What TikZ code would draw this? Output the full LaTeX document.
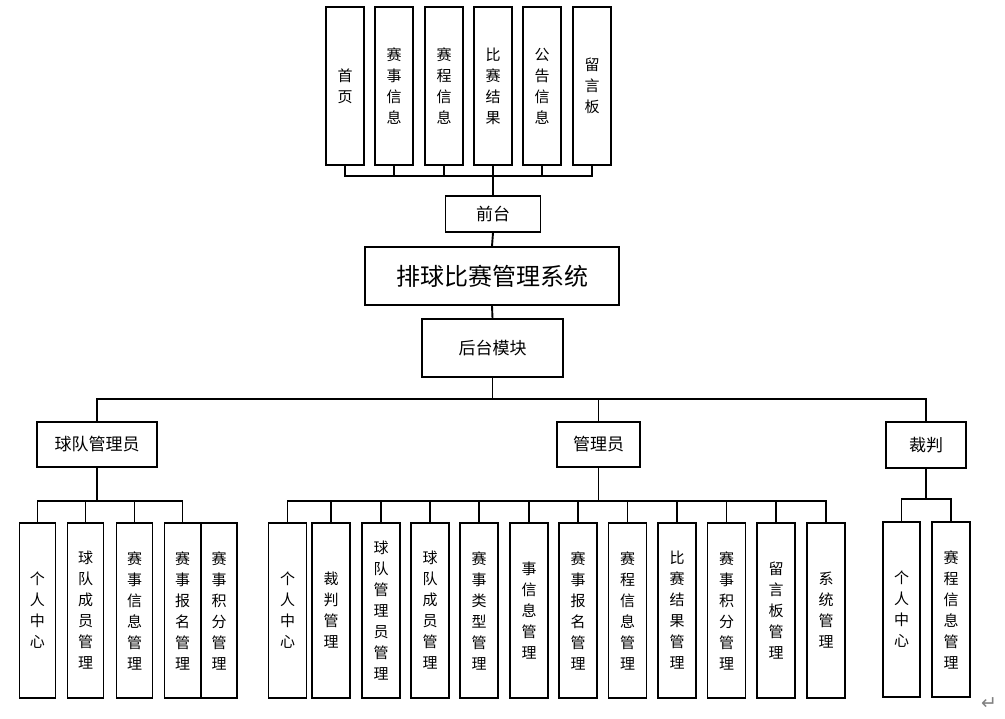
\documentclass[tikz,border=0pt]{standalone}
\usepackage{fontspec}
\setmainfont{Noto Sans CJK SC}
\newfontfamily\symfont{DejaVu Sans}
\usetikzlibrary{positioning}
\tikzset{
  box/.style={draw, line width=1.4pt, inner sep=0pt, font=\fontsize{17}{20}\selectfont},
  vbox/.style={draw, line width=1.4pt, inner sep=0pt, minimum width=38pt, minimum height=175pt, align=center, font=\fontsize{15}{21}\selectfont},
  link/.style={line width=1.9pt},
}
\begin{document}
\begin{tikzpicture}[x=1pt,y=-1pt]
\useasboundingbox (0,0) rectangle (1005,719);
% front end
\node[vbox, minimum height=158pt] (sy) at (345,86) {首\\页};
\node[vbox, minimum height=158pt] (ssxx) at (394,86) {赛\\事\\信\\息};
\node[vbox, minimum height=158pt] (scxx) at (444,86) {赛\\程\\信\\息};
\node[vbox, minimum height=158pt] (bsjg) at (493,86) {比\\赛\\结\\果};
\node[vbox, minimum height=158pt] (ggxx) at (542,86) {公\\告\\信\\息};
\node[vbox, minimum height=158pt] (lyb) at (592,86) {留\\言\\板};
\coordinate (topbus) at (493,176);
\node[box, minimum width=95pt, minimum height=36pt] (qt) at (493,214) {前台};
\node[box, minimum width=254pt, minimum height=58pt, font=\fontsize{24}{28}\selectfont] (xt) at (492,276) {排球比赛管理系统};
\node[box, minimum width=141pt, minimum height=58pt] (ht) at (492.5,348) {后台模块};
% roles
\coordinate (midbus) at (492.5,399);
\node[box, minimum width=120pt, minimum height=45pt] (qdgly) at (97,444.5) {球队管理员};
\node[box, minimum width=83pt, minimum height=45pt] (gly) at (598.5,444.5) {管理员};
\node[box, minimum width=80pt, minimum height=46pt] (cp) at (926,445) {裁判};
% team manager
\node[vbox, minimum width=36pt] (a1) at (37.5,610.5) {个\\人\\中\\心};
\node[vbox, minimum width=36pt] (a2) at (85.5,610.5) {球\\队\\成\\员\\管\\理};
\node[vbox, minimum width=36pt] (a3) at (134.5,610.5) {赛\\事\\信\\息\\管\\理};
\node[vbox, minimum width=36pt] (a4) at (182.5,610.5) {赛\\事\\报\\名\\管\\理};
\node[vbox, minimum width=36pt] (a5) at (219,610.5) {赛\\事\\积\\分\\管\\理};
\coordinate (abus) at (97,501);
% admin
\node[vbox] (b1) at (287.5,610.5) {个\\人\\中\\心};
\node[vbox] (b2) at (331,610.5) {裁\\判\\管\\理};
\node[vbox] (b3) at (381,610.5) {球\\队\\管\\理\\员\\管\\理};
\node[vbox] (b4) at (430,610.5) {球\\队\\成\\员\\管\\理};
\node[vbox] (b5) at (479,610.5) {赛\\事\\类\\型\\管\\理};
\node[vbox] (b6) at (529,610.5) {事\\信\\息\\管\\理};
\node[vbox] (b7) at (578,610.5) {赛\\事\\报\\名\\管\\理};
\node[vbox] (b8) at (627.5,610.5) {赛\\程\\信\\息\\管\\理};
\node[vbox] (b9) at (677,610.5) {比\\赛\\结\\果\\管\\理};
\node[vbox] (b10) at (726.5,610.5) {赛\\事\\积\\分\\管\\理};
\node[vbox] (b11) at (776,610.5) {留\\言\\板\\管\\理};
\node[vbox] (b12) at (826,610.5) {系\\统\\管\\理};
\coordinate (bbus) at (598.5,501);
% referee
\node[vbox, minimum width=37pt] (c1) at (901.5,609.5) {个\\人\\中\\心};
\node[vbox] (c2) at (951,609.5) {赛\\程\\信\\息\\管\\理};
\coordinate (cbus) at (926,499);
\node[text=gray, font=\symfont\fontsize{19}{19}\selectfont] (pm) at (989,704) {↵};
% connectors
\draw[link] (sy.south) |- (topbus) -| (lyb.south);
\draw[link] (ssxx.south) -- (ssxx.south |- topbus);
\draw[link] (scxx.south) -- (scxx.south |- topbus);
\draw[link] (bsjg.south) -- (bsjg.south |- topbus);
\draw[link] (ggxx.south) -- (ggxx.south |- topbus);
\draw[link] (topbus) -- (qt.north);
\draw[link] (qt.south) -- (xt.north);
\draw[link] (xt.south) -- (ht.north);
\draw[link] (ht.south) -- (midbus);
\draw[link] (qdgly.north) |- (midbus) -| (cp.north);
\draw[link] (gly.north) -- (gly.north |- midbus);
\draw[link] (qdgly.south) -- (abus);
\draw[link] (a1.north) |- (abus) -| (a4.north);
\draw[link] (a2.north) -- (a2.north |- abus);
\draw[link] (a3.north) -- (a3.north |- abus);
\draw[link] (gly.south) -- (bbus);
\draw[link] (b1.north) |- (bbus) -| (b12.north);
\draw[link] (b2.north) -- (b2.north |- bbus);
\draw[link] (b3.north) -- (b3.north |- bbus);
\draw[link] (b4.north) -- (b4.north |- bbus);
\draw[link] (b5.north) -- (b5.north |- bbus);
\draw[link] (b6.north) -- (b6.north |- bbus);
\draw[link] (b7.north) -- (b7.north |- bbus);
\draw[link] (b8.north) -- (b8.north |- bbus);
\draw[link] (b9.north) -- (b9.north |- bbus);
\draw[link] (b10.north) -- (b10.north |- bbus);
\draw[link] (b11.north) -- (b11.north |- bbus);
\draw[link] (cp.south) -- (cbus);
\draw[link] (c1.north) |- (cbus) -| (c2.north);
\end{tikzpicture}
\end{document}
